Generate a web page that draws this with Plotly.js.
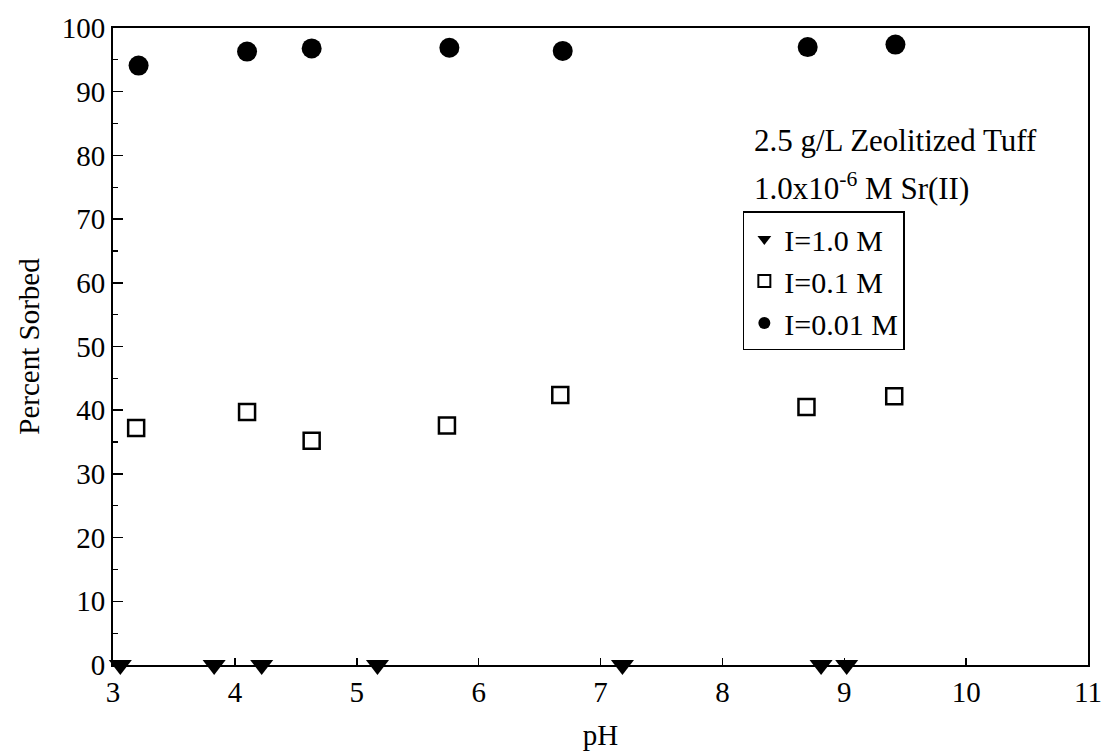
<!DOCTYPE html>
<html>
<head>
<meta charset="utf-8">
<script src="https://cdn.plot.ly/plotly-3.0.1.min.js"></script>
<style>html,body{margin:0;padding:0;background:#fff;}#chart{width:1101px;height:752px;}</style>
</head>
<body>
<div id="chart"></div>
<script>
// I = 1.0 M (down triangles)
const pH_I1 = [3.06, 3.83, 4.22, 5.17, 7.18, 8.81, 9.02];
const sorbed_I1 = [0, 0, 0, 0, 0, 0, 0];
// I = 0.1 M (open squares)
const pH_I01 = [3.19, 4.10, 4.63, 5.74, 6.67, 8.69, 9.41];
const sorbed_I01 = [37.2, 39.7, 35.2, 37.6, 42.4, 40.5, 42.2];
// I = 0.01 M (filled circles)
const pH_I001 = [3.21, 4.10, 4.63, 5.76, 6.69, 8.70, 9.42];
const sorbed_I001 = [94.1, 96.3, 96.8, 96.9, 96.4, 97.0, 97.4];

const xTicks = [3, 4, 5, 6, 7, 8, 9, 10, 11];
const yTicks = [0, 10, 20, 30, 40, 50, 60, 70, 80, 90, 100];
const names = ['I=1.0 M', 'I=0.1 M', 'I=0.01 M'];

const FONT = 'Liberation Serif, Times New Roman, serif';

const traces = [
  {x: pH_I1, y: sorbed_I1, name: names[0], mode: 'markers', type: 'scatter', cliponaxis: false,
   marker: {symbol: 'triangle-down', size: 20, color: '#000'}},
  {x: pH_I01, y: sorbed_I01, name: names[1], mode: 'markers', type: 'scatter', cliponaxis: false,
   marker: {symbol: 'square-open', size: 16, color: '#000', line: {width: 2.5, color: '#000'}}},
  {x: pH_I001, y: sorbed_I001, name: names[2], mode: 'markers', type: 'scatter', cliponaxis: false,
   marker: {symbol: 'circle', size: 20, color: '#000'}}
];

const layout = {
  width: 1101, height: 752,
  paper_bgcolor: '#fff', plot_bgcolor: '#fff',
  margin: {l: 113, r: 13, t: 28, b: 87},
  font: {family: FONT, size: 29, color: '#000'},
  showlegend: true,
  legend: {
    x: 0.646, y: 0.712, xanchor: 'left', yanchor: 'top',
    bgcolor: '#fff', bordercolor: '#000', borderwidth: 1.5,
    font: {family: FONT, size: 30, color: '#000'},
    itemsizing: 'constant', tracegroupgap: 0
  },
  xaxis: {
    range: [3, 11], tickvals: xTicks, ticktext: xTicks.map(String),
    ticks: 'inside', ticklen: 7, tickwidth: 1.5, tickcolor: '#000',
    ticklabeloverflow: 'allow',
    showline: true, linecolor: '#000', linewidth: 2, mirror: true,
    showgrid: false, zeroline: false,
    tickfont: {family: FONT, size: 29, color: '#000'},
    title: {text: 'pH', font: {family: FONT, size: 29, color: '#000'}, standoff: 18}
  },
  yaxis: {
    range: [0, 100], tickvals: yTicks, ticktext: yTicks.map(String),
    ticks: 'inside', ticklen: 10, tickwidth: 1.5, tickcolor: '#000',
    ticklabeloverflow: 'allow',
    minor: {dtick: 5, ticks: 'inside', ticklen: 5, tickwidth: 1.2, tickcolor: '#000', showgrid: false},
    showline: true, linecolor: '#000', linewidth: 2, mirror: true,
    showgrid: false, zeroline: false,
    tickfont: {family: FONT, size: 29, color: '#000'},
    title: {text: 'Percent Sorbed', font: {family: FONT, size: 29, color: '#000'}, standoff: 14}
  },
  annotations: [
    {xref: 'paper', yref: 'paper', x: 0.655, y: (665 - 140) / 637, xanchor: 'left', yanchor: 'middle',
     text: '2.5 g/L Zeolitized Tuff', showarrow: false, font: {family: FONT, size: 31, color: '#000'}},
    {xref: 'paper', yref: 'paper', x: 0.655, y: (665 - 187) / 637, xanchor: 'left', yanchor: 'middle',
     text: '1.0x10<sup>-6</sup> M Sr(II)', showarrow: false, font: {family: FONT, size: 31, color: '#000'}}
  ]
};

Plotly.newPlot('chart', traces, layout, {displayModeBar: false, staticPlot: true});
</script>
</body>
</html>
